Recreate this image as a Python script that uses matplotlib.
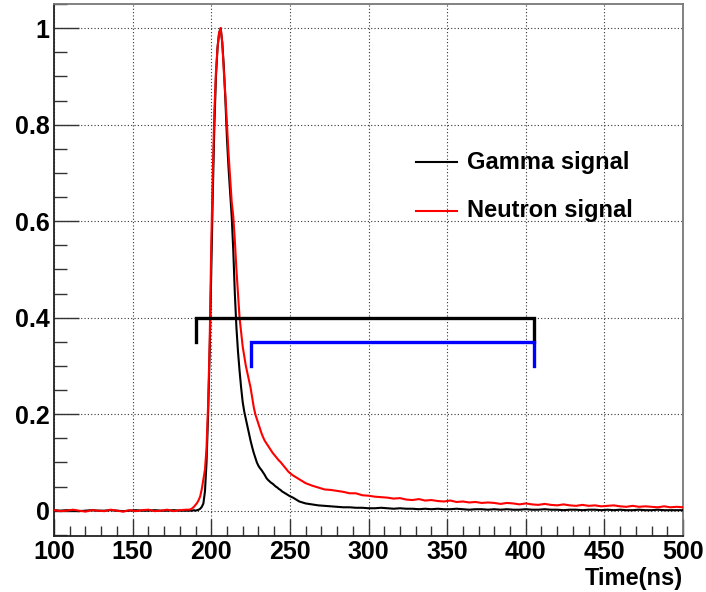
import numpy as np
import matplotlib
matplotlib.use("Agg")
import matplotlib.pyplot as plt
from matplotlib.ticker import MultipleLocator

# ---- pulse shapes (time in ns, normalised amplitude) ----
baseline_t = [100, 104, 108, 112, 116, 120, 124, 128, 132, 136, 140, 144, 148,
              152, 156, 160, 164, 168, 172, 176, 180, 184]
gamma_base = [0.001, 0.000, 0.001, 0.000, -0.001, 0.000, 0.001, 0.000, 0.000,
              0.001, 0.000, -0.001, 0.000, 0.001, 0.000, 0.000, 0.001, 0.000,
              0.000, 0.001, 0.000, 0.000]
neutron_base = [0.001, -0.001, 0.000, 0.002, 0.000, -0.002, 0.001, 0.000,
                -0.001, 0.002, 0.000, -0.002, 0.001, -0.001, 0.001, 0.002,
                -0.001, 0.000, 0.002, -0.001, 0.001, 0.002]

core_t = list(range(186, 251)) + [252, 254, 256, 258, 260]
gamma_core = [0.000, 0.000, 0.000, 0.001, 0.000, 0.001, 0.002, 0.004, 0.008,
              0.015, 0.040, 0.100, 0.200, 0.330, 0.500, 0.660, 0.800, 0.900,
              0.960, 0.990, 1.000, 0.970, 0.920, 0.850, 0.770, 0.710, 0.660,
              0.610, 0.540, 0.450, 0.380, 0.330, 0.290, 0.255, 0.225, 0.205,
              0.190, 0.175, 0.160, 0.145, 0.132, 0.120, 0.110, 0.100, 0.093,
              0.088, 0.084, 0.079, 0.074, 0.068, 0.064, 0.061, 0.058, 0.056,
              0.053, 0.050, 0.048, 0.045, 0.043, 0.040, 0.038, 0.036, 0.034,
              0.032, 0.030, 0.027, 0.023, 0.019, 0.017, 0.015]
neutron_core = [0.002, 0.003, 0.005, 0.008, 0.012, 0.016, 0.022, 0.030, 0.045,
                0.065, 0.085, 0.130, 0.220, 0.350, 0.550, 0.700, 0.830, 0.910,
                0.960, 0.990, 1.000, 0.970, 0.910, 0.860, 0.800, 0.740, 0.690,
                0.640, 0.610, 0.560, 0.500, 0.450, 0.400, 0.370, 0.340, 0.320,
                0.300, 0.285, 0.270, 0.255, 0.235, 0.215, 0.200, 0.190, 0.180,
                0.170, 0.160, 0.152, 0.145, 0.140, 0.135, 0.130, 0.125, 0.120,
                0.116, 0.112, 0.108, 0.104, 0.101, 0.097, 0.093, 0.089, 0.085,
                0.081, 0.078, 0.073, 0.069, 0.065, 0.061, 0.057]

tail_t = list(range(264, 501, 4))
gamma_tail = [0.013, 0.011, 0.010, 0.009, 0.008, 0.007, 0.007, 0.006, 0.006,
              0.005, 0.005, 0.006, 0.005, 0.004, 0.005, 0.004, 0.004, 0.003,
              0.004, 0.003, 0.004, 0.003, 0.003, 0.004, 0.003, 0.002, 0.003,
              0.003, 0.002, 0.003, 0.002, 0.003, 0.002, 0.002, 0.003, 0.002,
              0.002, 0.003, 0.002, 0.002, 0.001, 0.002, 0.002, 0.001, 0.002,
              0.002, 0.001, 0.002, 0.001, 0.002, 0.001, 0.001, 0.002, 0.001,
              0.001, 0.002, 0.001, 0.001, 0.001, 0.001]
neutron_tail = [0.052, 0.048, 0.044, 0.043, 0.041, 0.039, 0.036, 0.036, 0.032,
                0.031, 0.029, 0.028, 0.027, 0.025, 0.026, 0.023, 0.022, 0.024,
                0.021, 0.022, 0.020, 0.019, 0.021, 0.018, 0.019, 0.017, 0.018,
                0.016, 0.017, 0.016, 0.014, 0.016, 0.015, 0.013, 0.015, 0.013,
                0.012, 0.014, 0.012, 0.011, 0.013, 0.011, 0.010, 0.012, 0.010,
                0.011, 0.009, 0.010, 0.011, 0.009, 0.008, 0.010, 0.008, 0.009,
                0.008, 0.007, 0.009, 0.007, 0.008, 0.007]

# integration windows (start, stop, level, tick depth)
total_gate = (190, 405, 0.40, 0.05)
tail_gate = (225, 405, 0.35, 0.05)

series_labels = ["Gamma signal", "Neutron signal"]
x_label = "Time(ns)"

plt.rcParams["font.family"] = ["Liberation Sans", "DejaVu Sans"]
plt.rcParams["font.weight"] = "bold"

fig = plt.figure(figsize=(7.06, 5.92), dpi=100)
ax = fig.add_axes([54 / 706, 56 / 592, (683 - 54) / 706, (536 - 4) / 592])

t_all = baseline_t + core_t + tail_t
gamma = gamma_base + gamma_core + gamma_tail
neutron = neutron_base + neutron_core + neutron_tail

ax.plot(t_all, gamma, color="black", lw=1.5, zorder=3)
ax.plot(t_all, neutron, color="#ff0000", lw=1.5, zorder=4)


def gate(ax, spec, color):
    x0, x1, lvl, depth = spec
    xs = [x0, x0, x1, x1]
    ys = [lvl - depth, lvl, lvl, lvl - depth]
    ax.plot(xs, ys, color=color, lw=2.4, solid_joinstyle="miter", zorder=5)


gate(ax, total_gate, "black")
gate(ax, tail_gate, "#0000ff")

ax.set_xlim(100, 500)
ax.set_ylim(-0.0525, 1.05)

ax.xaxis.set_major_locator(MultipleLocator(50))
ax.xaxis.set_minor_locator(MultipleLocator(10))
ax.yaxis.set_major_locator(MultipleLocator(0.2))
ax.yaxis.set_minor_locator(MultipleLocator(0.05))
ax.yaxis.set_major_formatter(plt.FuncFormatter(lambda v, p: f"{v:g}"))

ax.grid(True, which="major", linestyle=(0, (1, 2)), color="#333333", lw=0.8)
ax.tick_params(which="both", direction="in", top=False, right=False,
               color="#333333", width=1.0, labelsize=18)
ax.tick_params(axis="x", which="major", length=12, pad=3)
ax.tick_params(axis="x", which="minor", length=7)
ax.tick_params(axis="y", which="major", length=18, pad=3)
ax.tick_params(axis="y", which="minor", length=9)
for lab in ax.get_xticklabels() + ax.get_yticklabels():
    lab.set_fontweight("bold")

for side in ["left", "bottom"]:
    ax.spines[side].set_color("#222222")
    ax.spines[side].set_linewidth(1.3)
for side in ["top", "right"]:
    ax.spines[side].set_color("#777777")
    ax.spines[side].set_linewidth(1.3)

# legend drawn as lines + labels in axes coordinates
leg_rows = [(series_labels[0], "black", 0.703), (series_labels[1], "#ff0000", 0.611)]
for text, col, yv in leg_rows:
    ax.plot([0.575, 0.64], [yv, yv], transform=ax.transAxes,
            color=col, lw=1.5, clip_on=False)
    ax.text(0.657, yv, text, transform=ax.transAxes, fontsize=17,
            fontweight="bold", va="center", ha="left")

fig.text(683 / 706, 1 - 578 / 592, x_label, fontsize=17, fontweight="bold",
         ha="right", va="center")

fig.savefig("out.png", dpi=100)
